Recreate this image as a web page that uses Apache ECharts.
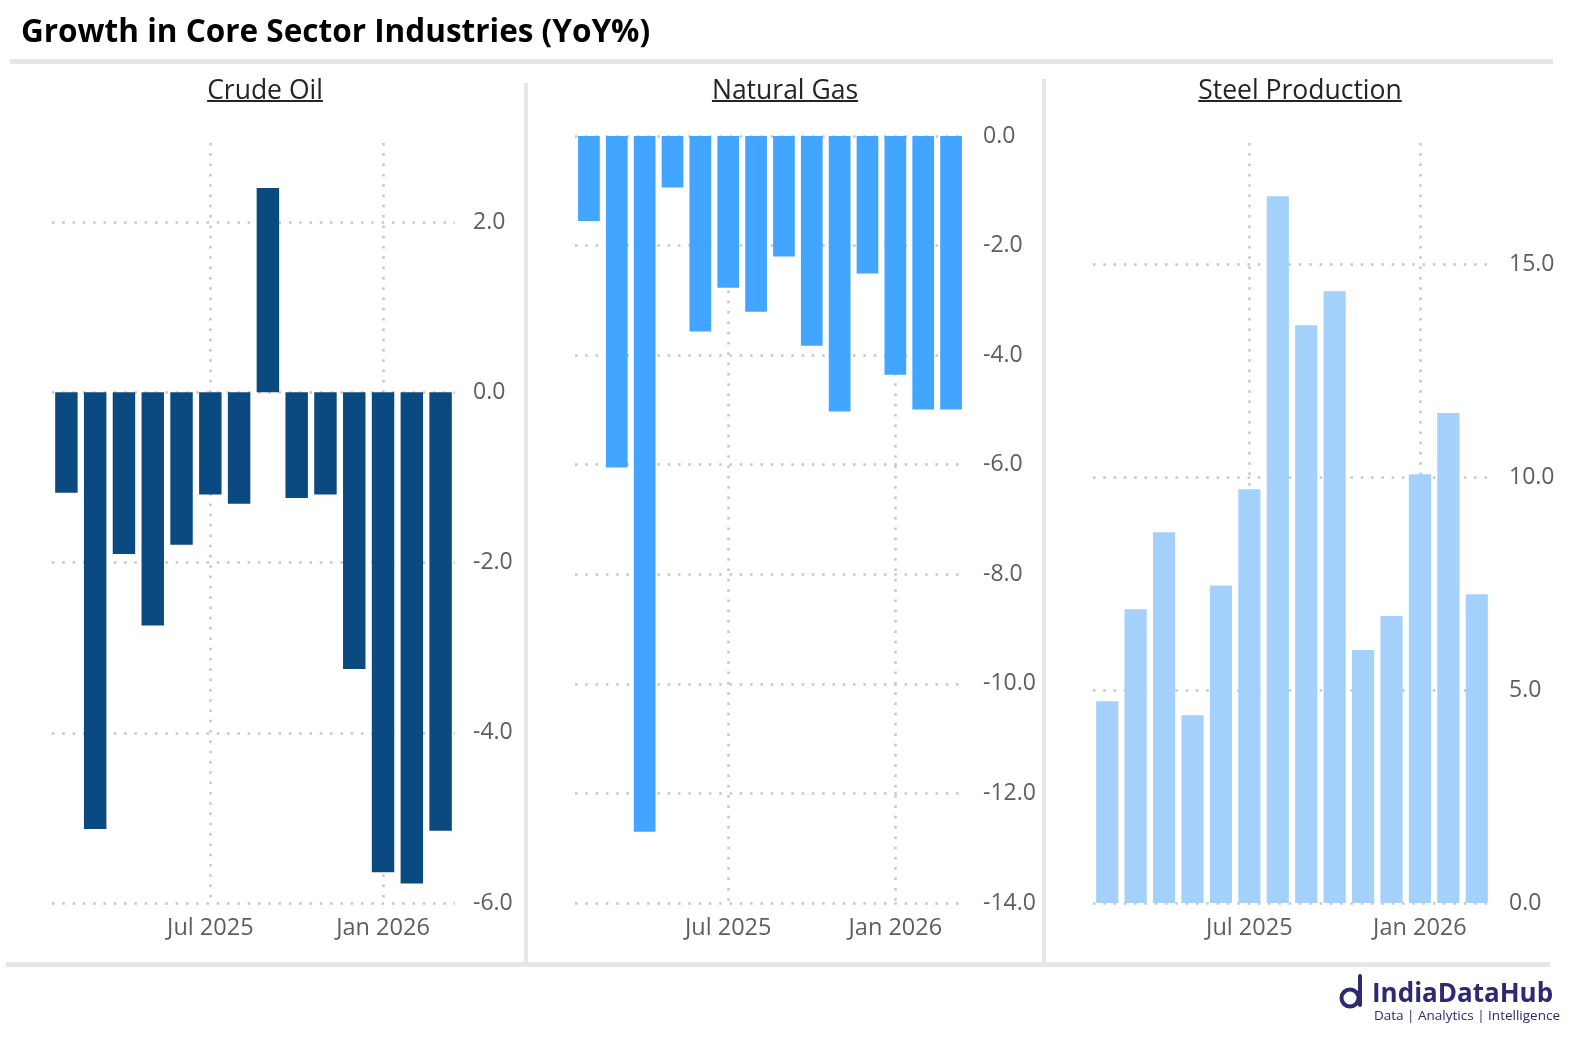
<!DOCTYPE html>
<html><head><meta charset="utf-8">
<script src="https://cdn.jsdelivr.net/npm/echarts@6/dist/echarts.min.js"></script>
<style>html,body{margin:0;padding:0;background:#fff}#c{width:1576px;height:1045px}</style>
</head><body><div id="c"></div>
<script>
// ---- data ----
const months = ['Feb 2025','Mar 2025','Apr 2025','May 2025','Jun 2025','Jul 2025','Aug 2025','Sep 2025','Oct 2025','Nov 2025','Dec 2025','Jan 2026','Feb 2026','Mar 2026'];
const tickMonths = ['Jul 2025','Jan 2026'];
const crudeOil = [-1.18,-5.13,-1.90,-2.74,-1.79,-1.20,-1.31,2.40,-1.24,-1.20,-3.25,-5.64,-5.77,-5.15];
const naturalGas = [-1.55,-6.05,-12.70,-0.94,-3.57,-2.77,-3.21,-2.20,-3.83,-5.03,-2.51,-4.36,-4.99,-4.99];
const steelProduction = [4.74,6.90,8.71,4.41,7.46,9.72,16.60,13.57,14.37,5.94,6.74,10.07,11.51,7.25];
const panelTitles = ['Crude Oil','Natural Gas','Steel Production'];
const chartTitle = 'Growth in Core Sector Industries (YoY%)';
const brandName = 'IndiaDataHub';
const brandTag = 'Data | Analytics | Intelligence';

// ---- layout / style ----
const FONT = '"Open Sans", "Noto Sans", sans-serif';
const panels = [
  {data: crudeOil, color: '#0b4a80', grid: {left: 52, top: 143, width: 403, height: 760}, min: -6, max: 2.93, interval: 2, cx: 265},
  {data: naturalGas, color: '#42a5ff', grid: {left: 575, top: 136, width: 390, height: 767}, min: -14, max: 0, interval: 2, cx: 785},
  {data: steelProduction, color: '#a3d1fc', grid: {left: 1093, top: 143, width: 398, height: 760}, min: 0, max: 17.85, interval: 5, cx: 1300}
];
const gridLine = {color: '#c6c6c6', width: 2.5, type: [2.5, 7.8]};

const chart = echarts.init(document.getElementById('c'), null, {renderer: 'canvas'});

const measure = (() => {
  const ctx = document.createElement('canvas').getContext('2d');
  return (txt, font) => { ctx.font = font; return ctx.measureText(txt).width; };
})();

const grids = [], xAxes = [], yAxes = [], series = [], graphics = [];
panels.forEach((p, i) => {
  grids.push(Object.assign({containLabel: false, outerBoundsMode: 'none'}, p.grid));
  xAxes.push({
    type: 'category', gridIndex: i, data: months, boundaryGap: true,
    axisLine: {show: false}, axisTick: {show: false},
    axisLabel: {
      interval: (idx, val) => tickMonths.indexOf(val) >= 0,
      color: '#605e5c', fontFamily: FONT, fontSize: 23.5, margin: 13
    },
    splitLine: {
      show: true, alignWithLabel: true,
      interval: (idx, val) => tickMonths.indexOf(val) >= 0,
      lineStyle: gridLine
    }
  });
  yAxes.push({
    type: 'value', gridIndex: i, position: 'right',
    min: p.min, max: p.max, interval: p.interval,
    axisLine: {show: false}, axisTick: {show: false},
    axisLabel: {
      margin: 18, align: 'left',
      showMaxLabel: p.max % p.interval === 0,
      formatter: v => '{n|' + v.toFixed(1) + '}',
      rich: {n: {width: 58, align: 'left', color: '#605e5c', fontFamily: FONT, fontSize: 23}}
    },
    splitLine: {show: true, showMaxLine: p.max % p.interval === 0, lineStyle: gridLine}
  });
  series.push({
    type: 'bar', xAxisIndex: i, yAxisIndex: i, data: p.data,
    barCategoryGap: '22%', itemStyle: {color: p.color}, silent: true, z: 3
  });
  const tf = '26.5px ' + FONT;
  const w = measure(panelTitles[i], tf);
  graphics.push({type: 'text', x: p.cx, y: 91, style: {text: panelTitles[i], font: tf, fill: '#252423', align: 'center', verticalAlign: 'middle'}});
  graphics.push({type: 'rect', x: p.cx - w / 2, y: 100, shape: {width: w, height: 2}, style: {fill: '#252423'}});
});

graphics.push({type: 'text', x: 21, y: 33, style: {text: chartTitle, font: 'bold 31.5px ' + FONT, fill: '#000', verticalAlign: 'middle'}});
graphics.push({type: 'rect', x: 10, y: 59, shape: {width: 1543, height: 5}, style: {fill: '#e6e6e6'}});
graphics.push({type: 'rect', x: 524, y: 83, shape: {width: 4, height: 880}, style: {fill: '#e6e6e6'}});
graphics.push({type: 'rect', x: 1042, y: 79, shape: {width: 4, height: 884}, style: {fill: '#e6e6e6'}});
graphics.push({type: 'rect', x: 6, y: 962, shape: {width: 1544, height: 5}, style: {fill: '#e6e6e6'}});
graphics.push({type: 'arc', shape: {cx: 1350, cy: 998, r: 8.5, startAngle: 0, endAngle: Math.PI * 2}, style: {stroke: '#2b2a72', lineWidth: 4, fill: null}});
graphics.push({type: 'rect', x: 1358, y: 974, shape: {width: 4, height: 33, r: 2}, style: {fill: '#2b2a72'}});
graphics.push({type: 'text', x: 1372, y: 995, style: {text: brandName, font: 'bold 26px ' + FONT, fill: '#2b2a72', verticalAlign: 'middle'}});
graphics.push({type: 'text', x: 1374, y: 1016, style: {text: brandTag, font: '13.5px ' + FONT, fill: '#2b2a72', verticalAlign: 'middle'}});

chart.setOption({
  animation: false,
  backgroundColor: '#ffffff',
  grid: grids, xAxis: xAxes, yAxis: yAxes, series: series,
  graphic: graphics
});
</script>
</body></html>
